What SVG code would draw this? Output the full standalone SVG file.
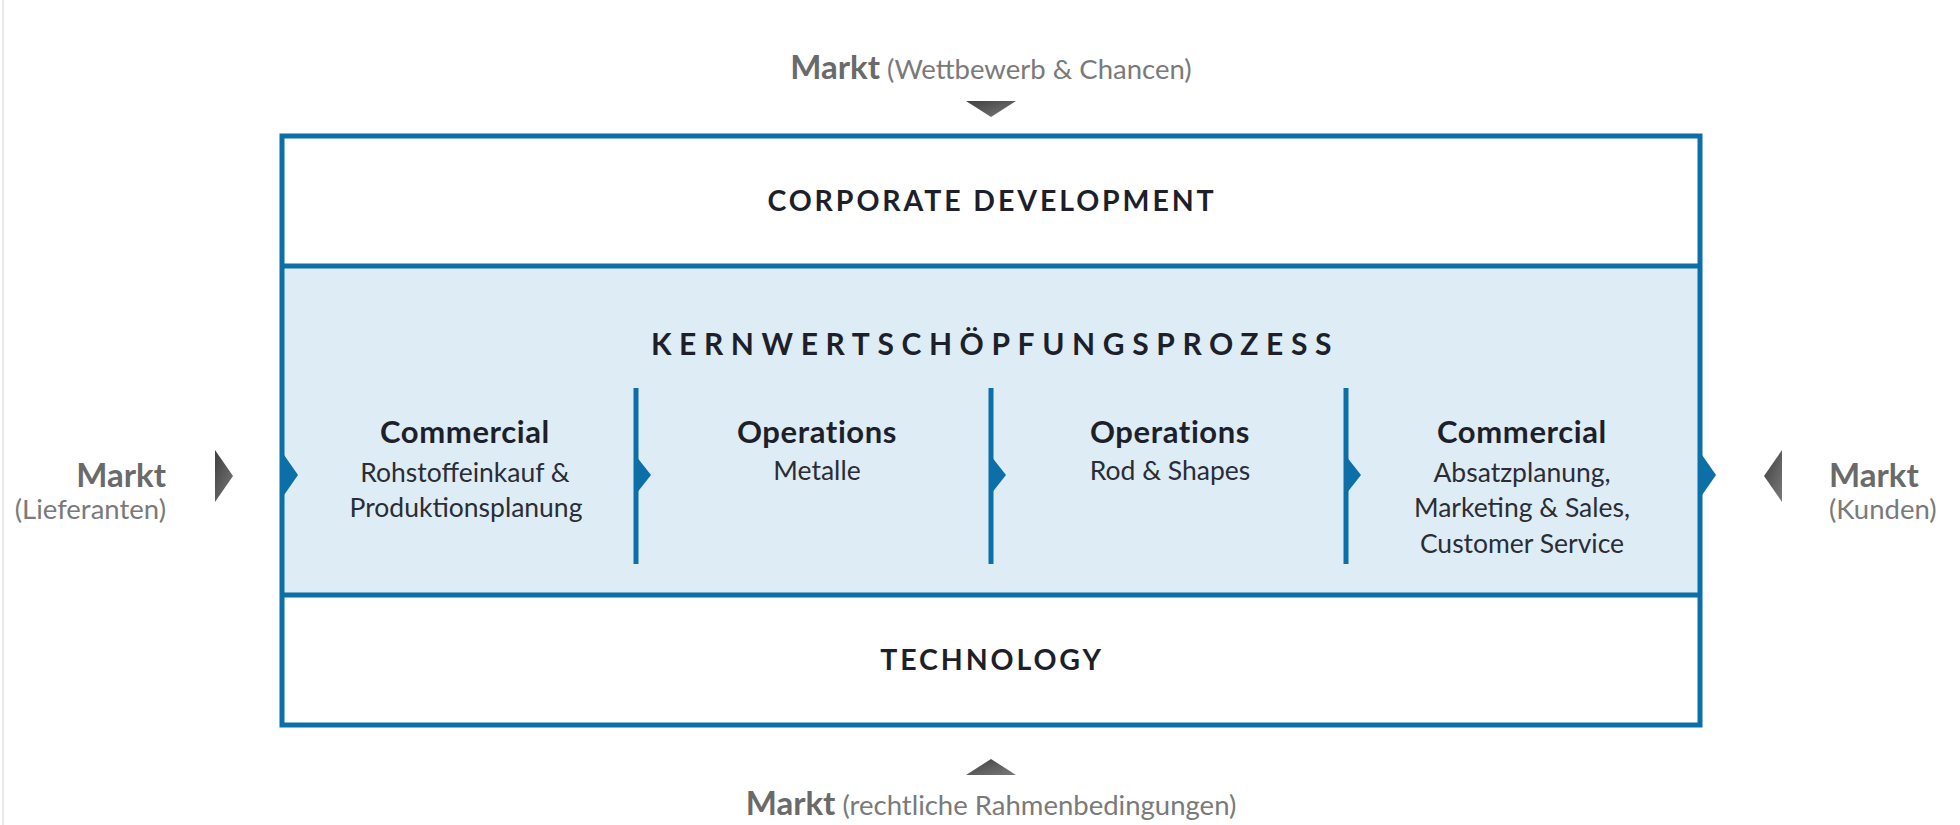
<svg xmlns="http://www.w3.org/2000/svg" width="1960" height="825" viewBox="0 0 1960 825">
  <defs>
    <style>
      text { font-family: Lato, "Open Sans", "Liberation Sans", sans-serif; }
      .hdr { font-weight: 700; font-size: 31px; fill: #1d1f2a; text-anchor: middle; letter-spacing: 0.6px; }
      .sub { font-weight: 400; font-size: 26.5px; fill: #2b2d36; text-anchor: middle; }
      .mk { font-weight: 700; font-size: 33px; fill: #6a6a6a; }
      .mkp { font-weight: 400; font-size: 27.5px; fill: #7a7a7a; }
      .band { font-weight: 700; font-size: 28.5px; fill: #1d1f2a; letter-spacing: 2.9px; text-anchor: middle; }
      .kern { font-weight: 700; font-size: 30px; fill: #1d1f2a; letter-spacing: 7.6px; text-anchor: middle; }
      .edge { fill: none; stroke: #0c6fa8; stroke-width: 5; }
      .div { stroke: #0c6fa8; stroke-width: 5; }
      .barrow { fill: #0c6fa8; }
      .garrow { fill: url(#gg); }
    </style>
    <linearGradient id="gg" x1="0" y1="0" x2="1" y2="1">
      <stop offset="0" stop-color="#3f3f3f"/>
      <stop offset="1" stop-color="#7a7a7a"/>
    </linearGradient>
  </defs>

  <rect x="0" y="0" width="1960" height="825" fill="#ffffff"/>
  <line x1="3" y1="0" x2="3" y2="825" stroke="#e2e2e2" stroke-width="1.5"/>

  <g id="frame">
    <rect x="284" y="268" width="1414" height="325" fill="#deecf5"/>
    <rect x="282" y="136" width="1418" height="589" class="edge"/>
  </g>

  <g id="corporate-development">
    <line x1="282" y1="266" x2="1700" y2="266" class="div"/>
    <text x="992" y="211" class="band">CORPORATE DEVELOPMENT</text>
  </g>

  <g id="technology">
    <line x1="282" y1="595" x2="1700" y2="595" class="div"/>
    <text x="992" y="670" class="band">TECHNOLOGY</text>
  </g>

  <g id="kernprozess">
    <text x="995" y="355" class="kern">KERNWERTSCHÖPFUNGSPROZESS</text>
  </g>

  <g id="step-commercial-1">
    <text x="465" y="443" class="hdr">Commercial</text>
    <text x="465" y="482" class="sub">Rohstoffeinkauf &amp;</text>
    <text x="466" y="517" class="sub">Produktionsplanung</text>
  </g>

  <g id="step-operations-metalle">
    <text x="817" y="443" class="hdr">Operations</text>
    <text x="817" y="480" class="sub">Metalle</text>
  </g>

  <g id="step-operations-rod">
    <text x="1170" y="443" class="hdr">Operations</text>
    <text x="1170" y="480" class="sub">Rod &amp; Shapes</text>
  </g>

  <g id="step-commercial-2">
    <text x="1522" y="443" class="hdr">Commercial</text>
    <text x="1522" y="482" class="sub">Absatzplanung,</text>
    <text x="1522" y="517" class="sub">Marketing &amp; Sales,</text>
    <text x="1522" y="553" class="sub">Customer Service</text>
  </g>

  <g id="markt-top">
    <text x="991" y="79" text-anchor="middle"><tspan class="mk">Markt</tspan><tspan class="mkp"> (Wettbewerb &amp; Chancen)</tspan></text>
  </g>

  <g id="markt-bottom">
    <text x="991" y="815" text-anchor="middle"><tspan class="mk">Markt</tspan><tspan class="mkp"> (rechtliche Rahmenbedingungen)</tspan></text>
  </g>

  <g id="markt-left">
    <text x="166" y="487" class="mk" text-anchor="end">Markt</text>
    <text x="166" y="519" class="mkp" text-anchor="end">(Lieferanten)</text>
  </g>

  <g id="markt-right">
    <text x="1829" y="487" class="mk">Markt</text>
    <text x="1829" y="519" class="mkp">(Kunden)</text>
  </g>

  <g id="connectors">
    <line x1="636" y1="388" x2="636" y2="564" class="div"/>
    <line x1="991" y1="388" x2="991" y2="564" class="div"/>
    <line x1="1346" y1="388" x2="1346" y2="564" class="div"/>
    <polygon class="barrow" points="282,452 298,475 282,498"/>
    <polygon class="barrow" points="636,456 651,475 636,494"/>
    <polygon class="barrow" points="991,456 1006,475 991,494"/>
    <polygon class="barrow" points="1346,456 1361,475 1346,494"/>
    <polygon class="barrow" points="1700,452 1716,475 1700,498"/>
    <polygon class="garrow" points="215,450 233,476 215,502"/>
    <polygon class="garrow" points="1782,450 1764,476 1782,502"/>
    <polygon class="garrow" points="966,101 1016,101 991,117"/>
    <polygon class="garrow" points="966,775 1016,775 991,759"/>
  </g>
</svg>
